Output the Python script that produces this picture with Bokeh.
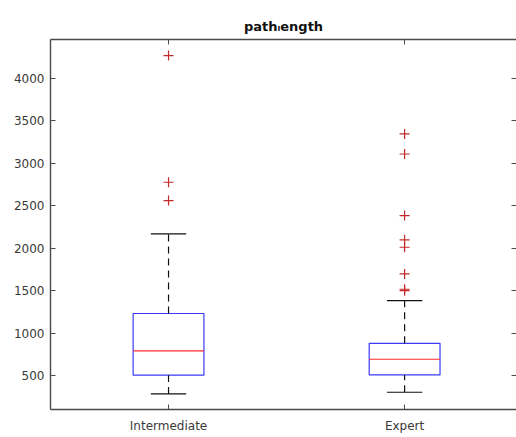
from bokeh.plotting import figure
from bokeh.models import LinearAxis, FixedTicker, Range1d
from bokeh.embed import file_html
from bokeh.resources import INLINE

# ---- data ----
categories = ["Intermediate", "Expert"]
q1 = [505, 508]
median = [791, 692]
q3 = [1231, 880]
whisker_low = [284, 303]
whisker_high = [2170, 1383]
outliers_intermediate = [4271, 2778, 2562]
outliers_expert = [3347, 3111, 2385, 2099, 2012, 1698, 1517, 1500]
y_ticks = [500, 1000, 1500, 2000, 2500, 3000, 3500, 4000]

positions = [i + 1 for i in range(len(categories))]
box_w = 0.3
cap_w = 0.15

FONT = "DejaVu Sans"
AX = "#4a4a4a"

p = figure(width=516, height=437, output_backend="svg", toolbar_location=None,
           x_range=Range1d(0.5, 2.474), y_range=Range1d(100, 4460),
           min_border_left=50, min_border_right=0, min_border_top=39, min_border_bottom=28)

p.title.text = "path\u2097ength"
p.title.text_font = FONT
p.title.text_font_size = "13px"
p.title.text_font_style = "bold"
p.title.text_color = "#111111"
p.title.align = "center"
p.title.standoff = 12

p.xgrid.visible = False
p.ygrid.visible = False
p.outline_line_color = None

# boxes
p.vbar(x=positions, width=box_w, bottom=q1, top=q3, fill_color=None,
       line_color="#3a3af5", line_width=1.2)
# medians
p.segment(x0=[x - box_w / 2 for x in positions], x1=[x + box_w / 2 for x in positions],
          y0=median, y1=median, line_color="#ff2a2a", line_width=1.2)
# whiskers
p.segment(x0=positions, x1=positions, y0=q3, y1=whisker_high, line_color="#111111",
          line_width=1.2, line_dash="7 5")
p.segment(x0=positions, x1=positions, y0=whisker_low, y1=q1, line_color="#111111",
          line_width=1.2, line_dash="7 5")
# caps
p.segment(x0=[x - cap_w / 2 for x in positions], x1=[x + cap_w / 2 for x in positions],
          y0=whisker_high, y1=whisker_high, line_color="#111111", line_width=1.2)
p.segment(x0=[x - cap_w / 2 for x in positions], x1=[x + cap_w / 2 for x in positions],
          y0=whisker_low, y1=whisker_low, line_color="#111111", line_width=1.2)
# outliers
p.scatter(x=[positions[0]] * len(outliers_intermediate), y=outliers_intermediate,
          marker="cross", size=10, line_color="#c42a2a", line_width=1.2)
p.scatter(x=[positions[1]] * len(outliers_expert), y=outliers_expert,
          marker="cross", size=10, line_color="#c42a2a", line_width=1.2)

def style_axis(ax):
    ax.axis_line_color = AX
    ax.axis_line_width = 1.4
    ax.major_tick_line_color = AX
    ax.major_tick_in = 5
    ax.major_tick_out = 0
    ax.minor_tick_line_color = None
    ax.major_label_text_font = FONT
    ax.major_label_text_font_size = "12px"
    ax.major_label_text_color = "#3a3a3a"

p.xaxis.ticker = FixedTicker(ticks=positions)
p.xaxis.major_label_overrides = {pos: c for pos, c in zip(positions, categories)}
p.yaxis.ticker = FixedTicker(ticks=y_ticks)
style_axis(p.xaxis[0])
style_axis(p.yaxis[0])
p.xaxis.major_label_standoff = 9
p.yaxis.major_label_standoff = 6

top = LinearAxis(ticker=FixedTicker(ticks=positions))
style_axis(top)
top.major_label_overrides = {pos: "" for pos in positions}
top.major_label_standoff = 0
p.add_layout(top, "above")
right = LinearAxis(ticker=FixedTicker(ticks=y_ticks))
style_axis(right)
right.axis_line_color = None
right.major_label_overrides = {t: "" for t in y_ticks}
right.major_label_standoff = 0
p.add_layout(right, "right")

open("out.html", "w").write(file_html(p, INLINE))
